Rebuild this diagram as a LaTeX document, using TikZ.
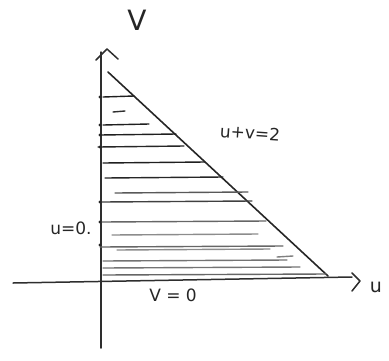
\documentclass[tikz,border=0pt]{standalone}
\usepackage{fontspec}
\setmainfont{DejaVu Sans}
\begin{document}
\begin{tikzpicture}[x=1pt,y=-1pt,
  axis/.style={line width=1.5pt, draw=black!82, line cap=round},
  edge/.style={line width=1.6pt, draw=black!85, line cap=round},
  hatch/.style={line width=1.4pt, line cap=round},
  lbl/.style={font=\fontsize{17}{17}\selectfont, text=black!85, inner sep=0pt}]
\useasboundingbox (0,0) rectangle (389,360);
% axes
\coordinate (vbot) at (101,348);
\coordinate (vtop) at (101,52);
\coordinate (hl) at (13,283);
\coordinate (hr) at (352,277);
\draw[axis] (vbot) -- (vtop);
\draw[axis] (hl) -- (hr);
% arrow chevrons
\coordinate (va1) at (96,60); \coordinate (va2) at (107,49); \coordinate (va3) at (118,59);
\draw[axis, line join=round] (va1) -- (va2) -- (va3);
\coordinate (ha1) at (352,273); \coordinate (ha2) at (360,281); \coordinate (ha3) at (352,291);
\draw[axis, line join=round] (ha1) -- (ha2) -- (ha3);
% triangle hypotenuse
\coordinate (T) at (108,72);
\coordinate (R) at (328,276);
\draw[edge] (T) -- (R);
% hatching
\foreach \y/\xa/\xb/\s in {97/103/134/88, 112/113/125/82, 125/103/149/88, 135/100/176/88, 147/98/184/85,
  163/103/205/88, 178/105/223/85, 193/115/248/65, 202/102/252/75, 222/102/266/60, 235/112/258/45,
  247/100/283/60, 250/117/270/45, 257/277/293/50, 261/103/287/55, 268/103/300/55, 275/103/326/60}
  \draw[hatch, draw=black!\s] (\xa,\y) -- (\xb,\y-1);
% tick dots on the axis
\foreach \y in {97,125,135,147,202,222,245}
  \fill[black!85] (100,\y) circle (1.6pt);
% labels
\node[lbl, font=\fontsize{28}{28}\selectfont] (V) at (137,20) {V};
\node[lbl, rotate=-4] (hyp) at (250,133) {u+v=2};
\node[lbl] (u0) at (71,228) {u=0.};
\node[lbl] (v0) at (173,295) {V = 0};
\node[lbl, font=\fontsize{19}{19}\selectfont] (U) at (376,287) {u};
\end{tikzpicture}
\end{document}
